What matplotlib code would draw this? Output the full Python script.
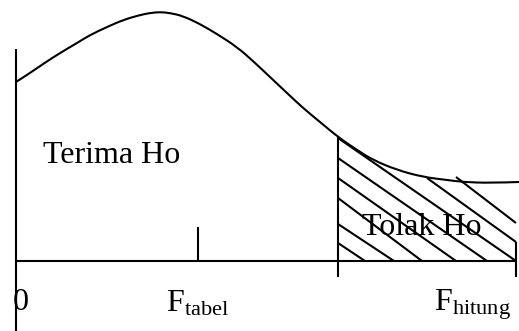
import matplotlib
matplotlib.use("Agg")
import matplotlib.pyplot as plt
from matplotlib.path import Path
from matplotlib.patches import PathPatch

plt.rcParams['mathtext.fontset'] = 'custom'
plt.rcParams['mathtext.rm'] = 'Liberation Serif'
plt.rcParams['mathtext.it'] = 'Liberation Serif:italic'

# Density curve (diagram units, y grows downward)
curve_x = [16, 30, 43, 60, 77, 90, 107, 123, 140, 150, 160, 170, 183, 200, 217, 237,
           253, 270, 287, 303, 320, 338, 357, 373, 397, 423, 447, 463, 490, 519]
curve_y = [82, 73, 64, 53, 43, 35, 27, 20, 15, 13, 12, 13, 16, 24, 34, 47,
           61, 77, 93, 108, 122, 137, 150, 160, 170, 177, 180, 182, 183, 182]

# Axes of the diagram
axis_y = 261
axis_x = [16, 517]
origin_x = 16
origin_top = 49
f_tabel_x = 198
f_tabel_top = 227
f_hitung_x = 516
f_hitung_top = 242
crit_x = 338
crit_top = 137
tick_bottom = 277

# Hatch lines of the rejection region
hatch_x0 = [338, 338, 338, 338, 338, 338, 427, 456]
hatch_y0 = [243, 224, 198, 178, 158, 138, 178, 177]
hatch_x1 = [365, 394, 422, 456, 487, 516, 516, 516]
hatch_y1 = [261, 261, 261, 261, 261, 261, 242, 223]

# Labels
labels = ["Terima Ho", "Tolak Ho", "0", r"$\mathrm{F}_{\mathrm{tabel}}$", r"$\mathrm{F}_{\mathrm{hitung}}$"]
label_x = [43, 362, 13, 166, 434]
label_y = [163, 235, 310, 311, 311]

fig = plt.figure(figsize=(5.19, 3.31), dpi=100)
ax = fig.add_axes([0, 0, 1, 1])
ax.set_xlim(0, 519)
ax.set_ylim(331, 0)
ax.axis('off')

lw = 1.5
kw = dict(color='black', lw=lw, solid_capstyle='butt')

# smooth curve: quadratic Bezier through midpoints of the read points
pts = list(zip(curve_x, curve_y))
verts = [pts[0]]
codes = [Path.MOVETO]
for i in range(1, len(pts) - 1):
    mid = ((pts[i][0] + pts[i + 1][0]) / 2, (pts[i][1] + pts[i + 1][1]) / 2)
    if i == len(pts) - 2:
        mid = pts[-1]
    verts += [pts[i], mid]
    codes += [Path.CURVE3, Path.CURVE3]
ax.add_patch(PathPatch(Path(verts, codes), fill=False, edgecolor='black', lw=lw))

ax.plot(axis_x, [axis_y, axis_y], **kw)
ax.plot([origin_x, origin_x], [origin_top, 331], **kw)
ax.plot([f_tabel_x, f_tabel_x], [f_tabel_top, axis_y], **kw)
ax.plot([crit_x, crit_x], [crit_top, tick_bottom], **kw)
ax.plot([f_hitung_x, f_hitung_x], [f_hitung_top, tick_bottom], **kw)
for x0, y0, x1, y1 in zip(hatch_x0, hatch_y0, hatch_x1, hatch_y1):
    ax.plot([x0, x1], [y0, y1], **kw)

for t, x, y in zip(labels, label_x, label_y):
    ax.text(x, y, t, ha='left', va='baseline', fontsize=23,
            family='Liberation Serif', color='black')

fig.savefig('out.png', dpi=100)
